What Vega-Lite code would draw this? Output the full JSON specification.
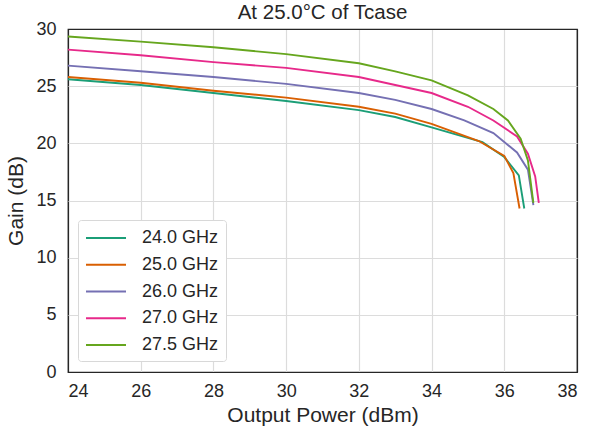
{
  "$schema": "https://vega.github.io/schema/vega-lite/v6.json",
  "autosize": "none",
  "width": 509,
  "height": 343,
  "padding": {"left": 68, "top": 29, "right": 14, "bottom": 60},
  "background": "white",
  "title": {"text": "At 25.0°C of Tcase", "fontSize": 20.5, "font": "Liberation Sans", "fontWeight": "normal", "color": "#262626", "offset": 0, "dy": 3},
  "config": {
    "view": {"stroke": "#262626", "strokeWidth": 1.25},
    "font": "Liberation Sans"
  },
  "data": {"values": [
    {"s": "24.0 GHz", "x": 24, "y": 25.6},
    {"s": "24.0 GHz", "x": 26, "y": 25.1},
    {"s": "24.0 GHz", "x": 28, "y": 24.4},
    {"s": "24.0 GHz", "x": 30, "y": 23.7},
    {"s": "24.0 GHz", "x": 32, "y": 22.9},
    {"s": "24.0 GHz", "x": 33, "y": 22.3},
    {"s": "24.0 GHz", "x": 34, "y": 21.4},
    {"s": "24.0 GHz", "x": 35.4, "y": 20.1},
    {"s": "24.0 GHz", "x": 36.0, "y": 18.8},
    {"s": "24.0 GHz", "x": 36.4, "y": 17.2},
    {"s": "24.0 GHz", "x": 36.55, "y": 14.3},
    {"s": "25.0 GHz", "x": 24, "y": 25.8},
    {"s": "25.0 GHz", "x": 26, "y": 25.3},
    {"s": "25.0 GHz", "x": 28, "y": 24.6},
    {"s": "25.0 GHz", "x": 30, "y": 24.0},
    {"s": "25.0 GHz", "x": 32, "y": 23.2},
    {"s": "25.0 GHz", "x": 33, "y": 22.6},
    {"s": "25.0 GHz", "x": 34, "y": 21.7},
    {"s": "25.0 GHz", "x": 35.3, "y": 20.2},
    {"s": "25.0 GHz", "x": 36.0, "y": 18.9},
    {"s": "25.0 GHz", "x": 36.25, "y": 17.4},
    {"s": "25.0 GHz", "x": 36.42, "y": 14.3},
    {"s": "26.0 GHz", "x": 24, "y": 26.8},
    {"s": "26.0 GHz", "x": 26, "y": 26.3},
    {"s": "26.0 GHz", "x": 28, "y": 25.8},
    {"s": "26.0 GHz", "x": 30, "y": 25.2},
    {"s": "26.0 GHz", "x": 32, "y": 24.4},
    {"s": "26.0 GHz", "x": 33, "y": 23.8},
    {"s": "26.0 GHz", "x": 34, "y": 23.0},
    {"s": "26.0 GHz", "x": 34.9, "y": 22.0},
    {"s": "26.0 GHz", "x": 35.7, "y": 20.9},
    {"s": "26.0 GHz", "x": 36.35, "y": 19.2},
    {"s": "26.0 GHz", "x": 36.65, "y": 17.7},
    {"s": "26.0 GHz", "x": 36.8, "y": 14.6},
    {"s": "27.0 GHz", "x": 24, "y": 28.2},
    {"s": "27.0 GHz", "x": 26, "y": 27.7},
    {"s": "27.0 GHz", "x": 28, "y": 27.1},
    {"s": "27.0 GHz", "x": 30, "y": 26.6},
    {"s": "27.0 GHz", "x": 32, "y": 25.8},
    {"s": "27.0 GHz", "x": 33, "y": 25.1},
    {"s": "27.0 GHz", "x": 34, "y": 24.4},
    {"s": "27.0 GHz", "x": 35, "y": 23.2},
    {"s": "27.0 GHz", "x": 35.7, "y": 22.0},
    {"s": "27.0 GHz", "x": 36.35, "y": 20.6},
    {"s": "27.0 GHz", "x": 36.65, "y": 19.1},
    {"s": "27.0 GHz", "x": 36.85, "y": 17.1},
    {"s": "27.0 GHz", "x": 36.95, "y": 14.8},
    {"s": "27.5 GHz", "x": 24, "y": 29.35},
    {"s": "27.5 GHz", "x": 26, "y": 28.9},
    {"s": "27.5 GHz", "x": 28, "y": 28.4},
    {"s": "27.5 GHz", "x": 30, "y": 27.8},
    {"s": "27.5 GHz", "x": 32, "y": 27.0},
    {"s": "27.5 GHz", "x": 33, "y": 26.3},
    {"s": "27.5 GHz", "x": 34, "y": 25.5},
    {"s": "27.5 GHz", "x": 35, "y": 24.2},
    {"s": "27.5 GHz", "x": 35.7, "y": 23.0},
    {"s": "27.5 GHz", "x": 36.1, "y": 22.0},
    {"s": "27.5 GHz", "x": 36.45, "y": 20.4},
    {"s": "27.5 GHz", "x": 36.65, "y": 18.5},
    {"s": "27.5 GHz", "x": 36.8, "y": 14.8}
  ]},
  "mark": {"type": "line", "strokeWidth": 1.9, "clip": true},
  "encoding": {
    "x": {"field": "x", "type": "quantitative", "scale": {"domain": [24, 38], "nice": false},
      "axis": {"title": "Output Power (dBm)", "values": [24, 26, 28, 30, 32, 34, 36, 38], "titleFontSize": 21, "titleFontWeight": "normal", "titleColor": "#262626", "labelFontSize": 18, "labelColor": "#262626",
        "gridColor": {"condition": {"test": "datum.value == 38 || datum.value == 24", "value": "#262626"}, "value": "#dcdcdc"},
        "gridWidth": 1.2, "domain": false, "ticks": false, "titlePadding": 4, "labelPadding": 10}},
    "y": {"field": "y", "type": "quantitative", "scale": {"domain": [0, 30], "nice": false},
      "axis": {"title": "Gain (dB)", "values": [0, 5, 10, 15, 20, 25, 30], "titleFontSize": 21, "titleFontWeight": "normal", "titleColor": "#262626", "labelFontSize": 18, "labelColor": "#262626",
        "gridColor": {"condition": {"test": "datum.value == 30 || datum.value == 0", "value": "#262626"}, "value": "#dcdcdc"},
        "gridWidth": 1.2, "domain": false, "ticks": false, "titlePadding": 9, "labelPadding": 12}},
    "color": {"field": "s", "type": "nominal",
      "scale": {"domain": ["24.0 GHz", "25.0 GHz", "26.0 GHz", "27.0 GHz", "27.5 GHz"], "range": ["#1b9e77", "#d95f02", "#7570b3", "#e7298a", "#66a61e"]},
      "legend": {"title": null, "orient": "none", "legendX": 10, "legendY": 191, "symbolType": "M-2,0H2", "symbolSize": 400, "symbolStrokeWidth": 2, "symbolOffset": 10, "labelFontSize": 18, "labelColor": "#262626", "rowPadding": 6.75, "padding": 7, "strokeColor": "#d8d8d8", "fillColor": "white", "cornerRadius": 3, "labelOffset": 25}}
  }
}
